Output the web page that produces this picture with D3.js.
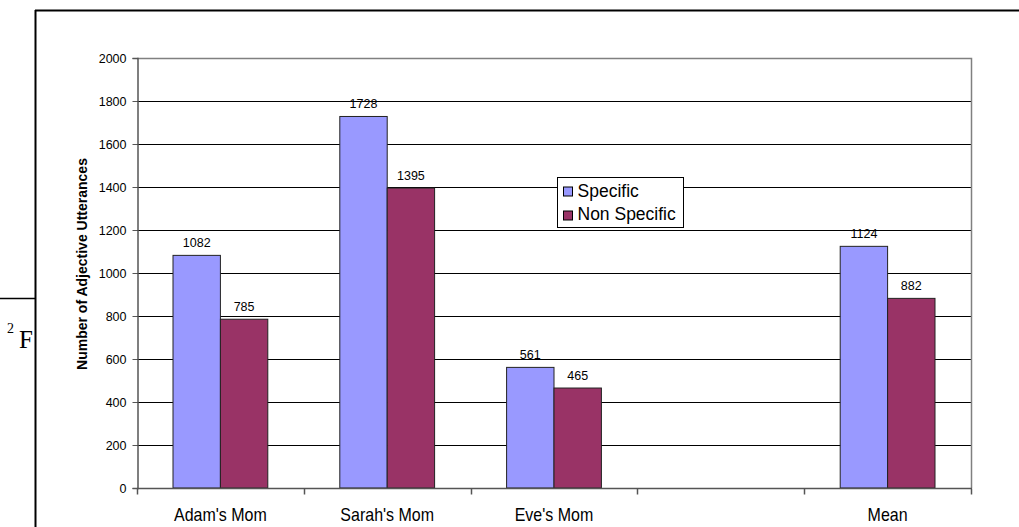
<!DOCTYPE html>
<html>
<head>
<meta charset="utf-8">
<script src="https://cdn.jsdelivr.net/npm/d3@7"></script>
<style>
  html, body { margin: 0; padding: 0; background: #fff; }
  svg { display: block; }
</style>
</head>
<body>
<svg id="chart" width="1019" height="527"></svg>
<script>
const categories = ["Adam's Mom", "Sarah's Mom", "Eve's Mom", "", "Mean"];
const seriesNames = ["Specific", "Non Specific"];
const specific = [1082, 1728, 561, null, 1124];
const nonSpecific = [785, 1395, 465, null, 882];
const yTicks = [0, 200, 400, 600, 800, 1000, 1200, 1400, 1600, 1800, 2000];
const colors = ["#9999FF", "#993366"];

const sans = "'Liberation Sans', Arial, Helvetica, sans-serif";
const serif = "'Liberation Serif', 'Times New Roman', serif";
const svg = d3.select("#chart");

// Page frame around the figure
svg.append("line").attr("x1", 35.5).attr("x2", 35.5).attr("y1", 10).attr("y2", 527)
  .attr("stroke", "#000").attr("stroke-width", 2);
svg.append("line").attr("x1", 35).attr("x2", 1019).attr("y1", 10.5).attr("y2", 10.5)
  .attr("stroke", "#000").attr("stroke-width", 2);
svg.append("line").attr("x1", 0).attr("x2", 35).attr("y1", 298.5).attr("y2", 298.5)
  .attr("stroke", "#000").attr("stroke-width", 1.5);
svg.append("text").attr("x", 7).attr("y", 333)
  .style("font-family", serif).style("font-size", "14px").text("2");
svg.append("text").attr("x", 19).attr("y", 348)
  .style("font-family", serif).style("font-size", "25px").text("F");

const plot = { left: 137, right: 971, top: 58, bottom: 488 };

const x = d3.scaleBand().domain(d3.range(categories.length))
  .range([plot.left, plot.right]).paddingInner(0).paddingOuter(0);
const y = d3.scaleLinear().domain([0, 2000]).range([plot.bottom, plot.top]);
const groupPad = 36;
const xs = d3.scaleBand().domain(d3.range(seriesNames.length))
  .range([groupPad, x.bandwidth() - groupPad]).padding(0);

// Gridlines
svg.append("g").selectAll("line").data(yTicks.filter(t => t > 0 && t < 2000)).join("line")
  .attr("x1", plot.left).attr("x2", plot.right)
  .attr("y1", d => Math.round(y(d)) + 0.5).attr("y2", d => Math.round(y(d)) + 0.5)
  .attr("stroke", "#000").attr("stroke-width", 1);

// Plot border (top and right)
svg.append("path")
  .attr("d", `M${plot.left},${plot.top + 0.5}H${plot.right + 0.5}V${plot.bottom}`)
  .attr("fill", "none").attr("stroke", "#808080").attr("stroke-width", 1.5);

// Bars with value labels
const seriesData = [specific, nonSpecific];
seriesData.forEach((vals, si) => {
  const pts = vals.map((v, i) => ({ v, i })).filter(d => d.v != null);
  const g = svg.append("g");
  g.selectAll("rect").data(pts).join("rect")
    .attr("x", d => x(d.i) + xs(si))
    .attr("width", xs.bandwidth())
    .attr("y", d => y(d.v))
    .attr("height", d => y(0) - y(d.v))
    .attr("fill", colors[si])
    .attr("stroke", "#222").attr("stroke-width", 1);
  g.selectAll("text").data(pts).join("text")
    .attr("x", d => x(d.i) + xs(si) + xs.bandwidth() / 2)
    .attr("y", d => y(d.v) - 8.5)
    .attr("text-anchor", "middle")
    .attr("font-family", sans).attr("font-size", 12.5)
    .attr("fill", "#000")
    .text(d => d.v);
});

// Y axis
const yAxis = d3.axisLeft(y).tickValues(yTicks).tickSize(5).tickPadding(6).tickFormat(d3.format("d"));
const ya = svg.append("g").attr("transform", `translate(${plot.left + 0.5},0)`).call(yAxis);
ya.select(".domain").attr("stroke", "#555").attr("stroke-width", 1.5);
ya.selectAll(".tick line").attr("stroke", "#555");
ya.selectAll("text").attr("font-family", sans).attr("font-size", 12.5).attr("fill", "#000");

// X axis
const xa = svg.append("g").attr("transform", `translate(0,${plot.bottom + 0.5})`);
xa.append("line").attr("x1", plot.left).attr("x2", plot.right + 1)
  .attr("stroke", "#555").attr("stroke-width", 1.5);
const boundaries = d3.range(categories.length + 1).map(i => plot.left + i * x.bandwidth());
xa.selectAll("line.tk").data(boundaries).join("line").attr("class", "tk")
  .attr("x1", d => Math.round(d) + 0.5).attr("x2", d => Math.round(d) + 0.5)
  .attr("y1", 0).attr("y2", 6).attr("stroke", "#555").attr("stroke-width", 1.5);
xa.selectAll("text").data(categories).join("text")
  .attr("transform", (d, i) => `translate(${x(i) + x.bandwidth() / 2},32.5) scale(1,1.15)`)
  .attr("text-anchor", "middle")
  .attr("font-family", sans).attr("font-size", 16)
  .attr("fill", "#000")
  .text(d => d);

// Y axis title
svg.append("text")
  .attr("transform", `translate(87,264) rotate(-90)`)
  .attr("text-anchor", "middle")
  .attr("font-family", sans).attr("font-size", 14)
  .attr("font-weight", "bold").attr("fill", "#000")
  .text("Number of Adjective Utterances");

// Legend
const lg = svg.append("g").attr("transform", "translate(557.5,177.5)");
lg.append("rect").attr("width", 126).attr("height", 50)
  .attr("fill", "#fff").attr("stroke", "#000").attr("stroke-width", 1);
seriesNames.forEach((name, i) => {
  lg.append("rect").attr("x", 6).attr("y", 9.5 + i * 24).attr("width", 9).attr("height", 9)
    .attr("fill", colors[i]).attr("stroke", "#000").attr("stroke-width", 1);
  lg.append("text").attr("x", 20).attr("y", 19.5 + i * 23)
    .attr("font-family", sans).attr("font-size", 17.5)
    .attr("fill", "#000").text(name);
});
</script>
</body>
</html>
